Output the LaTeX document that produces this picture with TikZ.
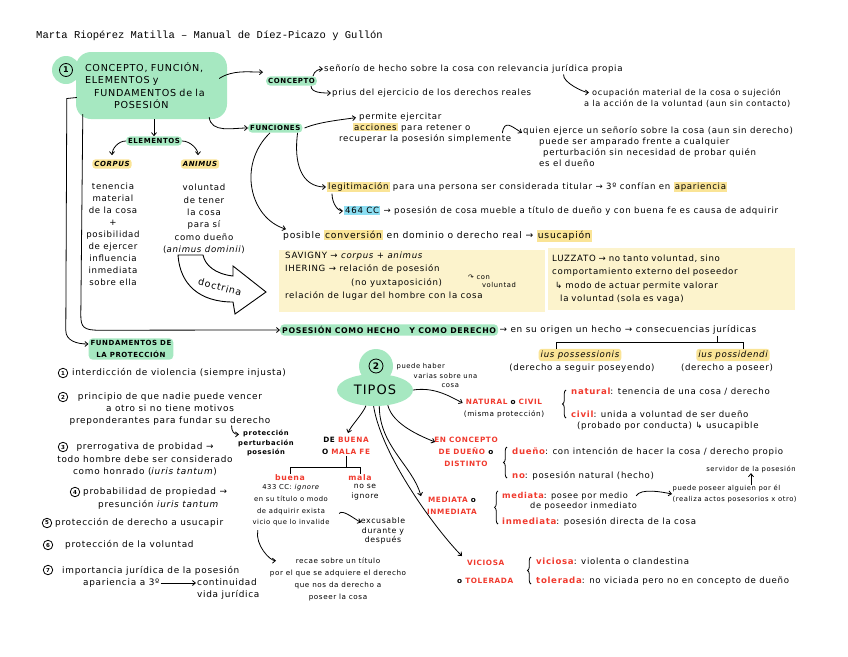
\documentclass[tikz,border=0pt]{standalone}
\usepackage{fontspec}
\setmainfont{DejaVu Sans}[LetterSpace=8]
\newfontfamily\maquina{Liberation Mono}
\usetikzlibrary{arrows.meta,positioning,calc,decorations.pathreplacing,shapes.geometric}
\definecolor{menta}{RGB}{166,232,193}
\definecolor{amarillo}{RGB}{250,228,150}
\definecolor{crema}{RGB}{252,243,204}
\definecolor{celeste}{RGB}{140,222,242}
\definecolor{rojo}{RGB}{240,58,46}
\newcommand{\subr}[2]{{\setlength{\fboxsep}{1pt}\colorbox{#1}{#2}}}
\newcommand{\rj}[1]{\textcolor{rojo}{\bfseries #1}}
\tikzset{
  tx/.style={inner sep=1pt, align=left, font=\fontsize{8.6}{11}\selectfont},
  tc/.style={inner sep=1pt, align=center, font=\fontsize{8.6}{12}\selectfont},
  lista/.style={inner sep=1pt, align=center, font=\fontsize{8.9}{12}\selectfont},
  chico/.style={inner sep=0.5pt, align=center, font=\fontsize{6.8}{9.5}\selectfont},
  cab/.style={inner sep=2pt, font=\fontsize{7}{9}\selectfont\bfseries},
  verde/.style={cab, fill=menta, rounded corners=4pt},
  amar/.style={cab, fill=amarillo, rounded corners=3pt, font=\fontsize{7}{9}\selectfont\bfseries\itshape},
  tiporojo/.style={inner sep=1pt, align=center, text=rojo, font=\fontsize{7.3}{12}\selectfont\bfseries},
  num/.style={circle, draw, line width=0.8pt, minimum size=9.5pt, inner sep=0pt, font=\fontsize{5.5}{5.5}\selectfont\bfseries},
  fl/.style={-{Straight Barb[length=3pt,width=5pt]}, line width=0.8pt},
  ln/.style={line width=0.8pt},
  llave/.style={decorate, decoration={brace, amplitude=3.5pt}, line width=0.8pt},
}
\begin{document}
\begin{tikzpicture}[x=1pt, y=-1pt]
\useasboundingbox (0,0) rectangle (848,656);
\node[anchor=west, inner sep=0pt, font=\maquina\fontsize{10.5}{12}\selectfont] (titulo) at (36,36) {Marta Riopérez Matilla – Manual de Díez-Picazo y Gullón};

% bloque 1
\node[circle, fill=menta, minimum size=28pt, inner sep=0pt] (unofondo) at (66,70) {};
\node[fill=menta, rounded corners=15pt, minimum width=151pt, minimum height=67pt, text width=133pt, align=left, inner sep=0pt, font=\fontsize{9.6}{12.3}\selectfont] (tema1) at (151.5,85.5)
  {CONCEPTO, FUNCIÓN,\\ELEMENTOS y\\\hspace*{9pt}FUNDAMENTOS de la\\\hspace*{29pt}POSESIÓN};
\node[num, minimum size=13pt, font=\fontsize{8}{8}\selectfont\bfseries] (uno) at (66,70) {1};

% concepto
\node[verde, anchor=west] (concepto) at (266,81) {CONCEPTO};
\draw[fl] ($(tema1.east)+(-8,-7)$) .. controls +(14,-9) and +(-14,0) .. ($(concepto.north west)+(-3,-4)$);
\node[tx, anchor=west] (senorio) at (323,69) {señorío de hecho sobre la cosa con relevancia jurídica propia};
\node[tx, anchor=west] (prius) at (331,93) {prius del ejercicio de los derechos reales};
\node[tx, anchor=west, font=\fontsize{8.2}{11}\selectfont] (ocupacion) at (583,98) {\hspace*{8pt}ocupación material de la cosa o sujeción\\a la acción de la voluntad (aun sin contacto)};
\draw[fl] ($(concepto.east)+(-4,-5)$) .. controls +(1,-5) and +(-4,0) .. (senorio.west);
\draw[fl] ($(concepto.east)+(-6,5)$) .. controls +(0,7) and +(-8,0) .. (prius.west);
\draw[fl] ($(senorio.south west)!0.8!(senorio.south east)$) .. controls +(-1,8) and +(-5,0) .. ($(ocupacion.north west)+(6,5)$);

% funciones
\node[verde, anchor=west] (funciones) at (248,128) {FUNCIONES};
\draw[fl] ($(tema1.south east)+(-18,-2)$) .. controls +(2,16) and +(-16,0) .. (funciones.west);
\node[tx, anchor=west] (permite) at (338,128) {\hspace*{20pt}permite ejercitar\\\hspace*{14pt}\subr{amarillo}{acciones} para retener o\\recuperar la posesión simplemente};
\draw[fl] ($(funciones.east)+(2,0)$) .. controls +(14,-6) and +(-14,2) .. ($(permite.north west)+(18,6)$);
\node[tx, anchor=west] (quien) at (522,147) {quien ejerce un señorío sobre la cosa (aun sin derecho)\\\hspace*{16pt}puede ser amparado frente a cualquier\\\hspace*{20pt}perturbación sin necesidad de probar quién\\\hspace*{16pt}es el dueño};
\draw[fl] ($(permite.east)+(-10,5)$) .. controls +(2,-14) and +(-10,-6) .. ($(quien.north west)+(0,7)$);
\node[tx, anchor=west] (legit) at (326,187) {\subr{amarillo}{legitimación} para una persona ser considerada titular → 3º confían en \subr{amarillo}{apariencia}};
\draw[fl] ($(funciones.south east)+(-5,0)$) .. controls +(-4,30) and +(-25,0) .. (legit.west);
\node[tx, anchor=west] (art464) at (343,211) {\subr{celeste}{464 CC} → posesión de cosa mueble a título de dueño y con buena fe es causa de adquirir};
\draw[fl] ($(legit.south west)+(6,0)$) .. controls +(0,10) and +(-5,0) .. (art464.west);
\node[tx, anchor=west, font=\fontsize{9.2}{11}\selectfont] (conver) at (282,236) {posible \subr{amarillo}{conversión} en dominio o derecho real → \subr{amarillo}{usucapión}};
\draw[fl] ($(funciones.south west)+(22,0)$) .. controls +(-33,32) and +(-36,-11) .. ($(conver.north west)+(4,0)$);

% doctrina
\node[fill=crema, anchor=north west, minimum width=266pt, minimum height=62pt, inner sep=0pt] (caja1) at (279,250) {};
\node[tx, anchor=north west, font=\fontsize{8.6}{13.5}\selectfont] (savigny) at (284,250.5) {SAVIGNY → \textit{corpus + animus}\\IHERING → relación de posesión\\\hspace*{66pt}(no yuxtaposición)\\relación de lugar del hombre con la cosa};
\node[chico, align=left, font=\fontsize{6.8}{8}\selectfont] (convol) at (492,281) {↷ con\\\hspace*{14pt}voluntad};
\node[fill=crema, anchor=north west, text width=239pt, inner xsep=4pt, inner ysep=6pt, minimum height=62pt, font=\fontsize{8.6}{13.5}\selectfont, align=left] (luzzato) at (548,248)
  {LUZZATO → no tanto voluntad, sino\\comportamiento externo del poseedor\\\hspace*{3pt}↳ modo de actuar permite valorar\\\hspace*{8pt}la voluntad (sola es vaga)};

% elementos
\node[verde] (elementos) at (154,141) {ELEMENTOS};
\draw[fl] (tema1.south -| elementos.north) -- (elementos.north);
\node[amar] (corpus) at (112,164) {CORPUS};
\node[amar] (animus) at (200,164) {ANIMUS};
\draw[fl] (elementos.west) .. controls +(-8,0) and +(0,-6) .. ($(corpus.north)+(0,-4)$);
\draw[fl] (elementos.east) .. controls +(8,0) and +(0,-6) .. ($(animus.north)+(-2,-4)$);
\node[tc] (corpustx) at (113,234.5) {tenencia\\material\\de la cosa\\+\\posibilidad\\de ejercer\\influencia\\inmediata\\sobre ella};
\node[tc, font=\fontsize{8.6}{12.4}\selectfont] (animustx) at (204,219) {voluntad\\de tener\\la cosa\\para sí\\como dueño\\(\textit{animus dominii})};
\draw[line width=0.9pt, fill=white] (178,255) .. controls (180,285) and (200,302) .. (233,302) -- (235,314) -- (266,292) -- (233,266) -- (233,276) .. controls (215,274) and (205,265) .. (203,255) -- cycle;
\node[rotate=-15, inner sep=0pt, font=\fontsize{9.5}{9.5}\selectfont] (doctrina) at (220,287) {doctrina};

% lineas de la izquierda
\node[verde, align=center, font=\fontsize{7}{12}\selectfont\bfseries] (fundamentos) at (131,349) {FUNDAMENTOS DE\\LA PROTECCIÓN};
\node[verde, anchor=west, font=\fontsize{7.8}{9}\selectfont\bfseries] (posesion) at (280,330) {POSESIÓN COMO HECHO\hspace{6pt} Y COMO DERECHO};
\draw[fl] ($(tema1.west)+(1,12)$) -- ++(-10,1) -- ++(-1,232) .. controls +(0,10) and +(-12,0) .. ($(fundamentos.west)+(0,-5)$);
\draw[fl] ($(tema1.south west)+(7,-5)$) -- ++(-2,201) .. controls +(0,12) and +(-15,0) .. ++(18,15) -- (posesion.west);
\node[tx, right=0pt of posesion, font=\fontsize{8.9}{11}\selectfont] (origen) {→ en su origen un hecho → consecuencias jurídicas};
\node[amar, font=\fontsize{8.6}{9}\selectfont\itshape] (possessionis) at (580,355) {ius possessionis};
\node[tx, anchor=center] (seguir) at (582,368) {(derecho a seguir poseyendo)};
\node[amar, font=\fontsize{8.6}{9}\selectfont\itshape] (possidendi) at (733,355) {ius possidendi};
\node[tx, anchor=center] (poseer) at (727,368) {(derecho a poseer)};
\draw[ln] ($(possessionis.north)+(-24,0)$) -- ++(0,-6) -| ($(possidendi.north)+(10,0)$);
\coordinate (cj) at ($(possidendi.north)+(-16,-6)$);
\draw[ln] (cj) -- (cj |- origen.south);

% fundamentos
\node[num] (n1) at (63,373) {1};
\node[tx, anchor=west, font=\fontsize{8.9}{11}\selectfont] (f1) at (71,373) {interdicción de violencia (siempre injusta)};
\node[num] (n2) at (63,397) {2};
\node[lista] (f2) at (170,409) {principio de que nadie puede vencer\\a otro si no tiene motivos\\preponderantes para fundar su derecho};
\node[chico, font=\fontsize{6.8}{9.5}\selectfont\bfseries] (proteccion) at (266,443) {protección\\perturbación\\posesión};
\draw[fl] ($(f2.south east)+(-40,-1)$) .. controls +(0,6) and +(-5,0) .. ($(proteccion.north)+(-27,5)$);
\node[num] (n3) at (63,447) {3};
\node[lista, font=\fontsize{8.9}{12.5}\selectfont] (f3) at (145,459.5) {prerrogativa de probidad →\\todo hombre debe ser considerado\\como honrado (\textit{iuris tantum})};
\node[num] (n4) at (75,492) {4};
\node[tx, anchor=west, font=\fontsize{8.9}{11}\selectfont] (f4) at (82,498.5) {probabilidad de propiedad →\\[2pt]\hspace*{15pt}presunción \textit{iuris tantum}};
\node[num] (n5) at (47,523) {5};
\node[tx, anchor=west, font=\fontsize{8.9}{11}\selectfont] (f5) at (54,523) {protección de derecho a usucapir};
\node[num] (n6) at (48,545) {6};
\node[tx, anchor=west, font=\fontsize{8.9}{11}\selectfont] (f6) at (64,545) {protección de la voluntad};
\node[num] (n7) at (48,570) {7};
\node[tx, anchor=west, font=\fontsize{8.9}{11}\selectfont] (f7) at (61,571) {importancia jurídica de la posesión};
\node[tx, anchor=west, font=\fontsize{8.9}{11}\selectfont] (aparien) at (82,583) {apariencia a 3º};
\node[tx, anchor=west, font=\fontsize{8.9}{12}\selectfont] (continuidad) at (196,589) {continuidad\\vida jurídica};
\draw[fl] (aparien.east) -- (aparien.east -| continuidad.west);

% bloque 2: tipos
\node[circle, fill=menta, minimum size=34pt, inner sep=0pt] (dosfondo) at (376,366) {};
\node[ellipse, fill=menta, minimum width=76pt, minimum height=32pt, inner sep=0pt, font=\fontsize{13}{14}\selectfont] (tipos) at (375,390) {TIPOS};
\node[num, minimum size=14pt, font=\fontsize{9}{9}\selectfont\bfseries] (dos) at (376,366) {2};
\node[chico, anchor=west, align=left] (varias) at (396,375.5) {puede haber\\\hspace*{17pt}varias sobre una\\\hspace*{45pt}cosa};

% buena o mala fe
\node[tiporojo] (buenamala) at (346,446) {\textcolor{black}{DE} BUENA\\\textcolor{black}{O} MALA FE};
\draw[fl] (tipos.-120) .. controls +(-3,8) and +(2,-6) .. ($(buenamala.north)+(2,-3)$);
\node[tiporojo, font=\fontsize{7.8}{9}\selectfont\bfseries] (buena) at (290,478) {buena};
\node[tiporojo, font=\fontsize{7.8}{9}\selectfont\bfseries] (mala) at (360,478) {mala};
\draw[ln] (buena.north) -- ++(0,-6) -| (mala.north);
\draw[ln] (buenamala.south) -- ($(buenamala.south |- buena.north)+(0,-6)$);
\node[chico, font=\fontsize{6.8}{11.7}\selectfont] (art433) at (291,505.5) {433 CC: \textit{ignore}\\en su título o modo\\de adquirir exista\\vicio que lo invalide};
\node[chico, font=\fontsize{7.6}{9.5}\selectfont] (noseignore) at (365,492) {no se\\ignore};
\node[chico, font=\fontsize{7.8}{9.2}\selectfont] (excusable) at (383,531) {excusable\\durante y\\después};
\draw[fl] ($(art433.east)+(9,8)$) .. controls +(3,-5) and +(-5,-2) .. ($(excusable.north west)+(1,5)$);
\node[chico, font=\fontsize{7.2}{12}\selectfont] (recae) at (338,579) {recae sobre un título\\por el que se adquiere el derecho\\que nos da derecho a\\poseer la cosa};
\draw[fl] ($(art433.south west)+(6,3)$) .. controls +(-3,15) and +(-6,0) .. ($(recae.north)+(-62,4)$);

% natural o civil
\node[tiporojo] (natural) at (504,409) {NATURAL \textcolor{black}{o} CIVIL\\\textcolor{black}{\mdseries (misma protección)}};
\draw[fl] (tipos.east) .. controls +(20,-3) and +(-15,-8) .. ($(natural.west)+(0,-6)$);
\node[tx, anchor=west] (natdef) at (570,392) {\rj{natural}: tenencia de una cosa / derecho};
\node[tx, anchor=west] (civdef) at (570,421) {\rj{civil}: unida a voluntad de ser dueño\\\hspace*{6pt}(probado por conducta) ↳ usucapible};
\draw[llave] ($(natdef.west)+(-4,26)$) -- ($(natdef.west)+(-4,-2)$);

% en concepto de dueno
\node[tiporojo] (endueno) at (466,452) {EN CONCEPTO\\DE DUEÑO \textcolor{black}{o}\\DISTINTO};
\draw[fl] (tipos.-50) .. controls +(5,20) and +(-12,-5) .. ($(endueno.north west)+(2,6)$);
\node[tx, anchor=west] (duenodef) at (511,452) {\rj{dueño}: con intención de hacer la cosa / derecho propio};
\node[tx, anchor=west] (nodef) at (511,476) {\rj{no}: posesión natural (hecho)};
\draw[llave] ($(nodef.west)+(-4,2)$) -- ($(duenodef.west)+(-4,-5)$);
\node[chico] (servidor) at (751,469) {servidor de la posesión};
\node[chico, anchor=west, align=left, font=\fontsize{6.8}{10.5}\selectfont] (puede) at (672,494) {puede poseer alguien por él\\(realiza actos posesorios x otro)};
\draw[fl] (servidor.south |- puede.north) -- (servidor.south);

% mediata o inmediata
\node[tiporojo] (mediata) at (452,506) {MEDIATA \textcolor{black}{o}\\INMEDIATA};
\draw[fl] (tipos.-75) .. controls +(0,40) and +(-8,-30) .. ($(mediata.north west)+(-5,0)$);
\node[tx, anchor=west, font=\fontsize{8.2}{10}\selectfont] (mediatadef) at (501,501) {\rj{mediata}: posee por medio\\\hspace*{28pt}de poseedor inmediato};
\draw[fl] ($(mediatadef.north east)+(-2,5)$) .. controls +(5,-8) and +(-10,-2) .. (puede.west);
\node[tx, anchor=west] (inmediatadef) at (501,522) {\rj{inmediata}: posesión directa de la cosa};
\draw[llave] ($(inmediatadef.west)+(-3,2)$) -- ($(mediatadef.north west)+(-3,0)$);

% viciosa o tolerada
\node[tiporojo, anchor=west, align=left] (viciosa) at (456,572) {\hspace*{10pt}VICIOSA\\[6pt]\textcolor{black}{o} TOLERADA};
\draw[fl] (tipos.-95) .. controls +(8,50) and +(-25,-25) .. ($(viciosa.north west)+(6,-3)$);
\node[tx, anchor=west] (viciosadef) at (535,561) {\rj{viciosa}: violenta o clandestina};
\node[tx, anchor=west] (toleradadef) at (535,581) {\rj{tolerada}: no viciada pero no en concepto de dueño};
\draw[llave] ($(toleradadef.west)+(-4,3)$) -- ($(viciosadef.west)+(-4,-4)$);
\end{tikzpicture}
\end{document}
